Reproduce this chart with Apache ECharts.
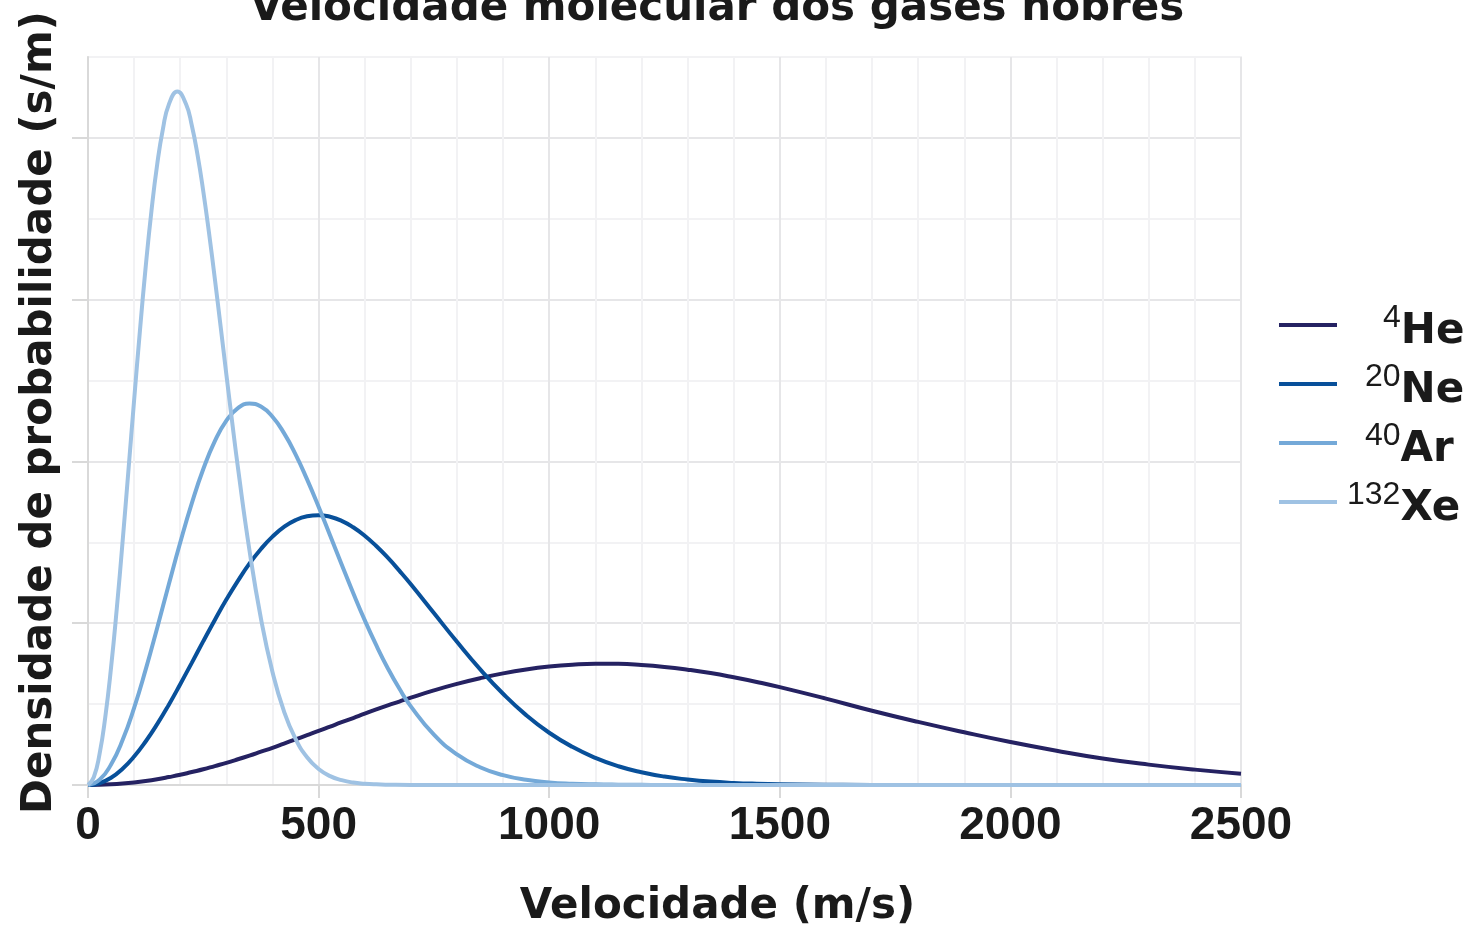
<!DOCTYPE html>
<html>
<head>
<meta charset="utf-8">
<script src="https://cdn.jsdelivr.net/npm/echarts@6/dist/echarts.min.js"></script>
<style>
html, body { margin: 0; padding: 0; background: #ffffff; }
#chart { width: 1472px; height: 929px; }
</style>
</head>
<body>
<div id="chart"></div>
<script>
// Velocity sample points (m/s) for He, Ne, Ar
const velocity = [0, 25, 50, 75, 100, 125, 150, 175, 200, 225, 250, 275, 300, 325, 350, 375, 400,
  425, 450, 475, 500, 525, 550, 575, 600, 625, 650, 675, 700,
  750, 800, 850, 900, 950, 1000, 1050, 1100, 1150, 1200, 1250, 1300, 1350, 1400, 1450, 1500,
  1600, 1700, 1800, 1900, 2000, 2100, 2200, 2300, 2400, 2500];
// Finer velocity samples for the narrow Xe peak
const xeVelocity = [0, 12.5, 25, 37.5, 50, 62.5, 75, 87.5, 100, 112.5, 125, 137.5, 150, 162.5, 175, 193.75,
  212.5, 225, 237.5, 250, 262.5, 275, 287.5, 300, 312.5, 325, 350, 375, 400,
  425, 450, 475, 500, 525, 550, 575, 600, 625, 650, 700, 2500];

// Probability density, in units of 10^-3 s/m
const heDensity = [0, 0.001, 0.004, 0.009, 0.016, 0.025, 0.036, 0.049, 0.063, 0.080, 0.097, 0.117, 0.137, 0.159, 0.182, 0.206, 0.230,
  0.256, 0.282, 0.308, 0.334, 0.361, 0.388, 0.414, 0.441, 0.467, 0.492, 0.516, 0.540,
  0.585, 0.625, 0.660, 0.690, 0.714, 0.732, 0.744, 0.750, 0.749, 0.742, 0.730, 0.713, 0.692, 0.666, 0.637, 0.605,
  0.534, 0.459, 0.390, 0.326, 0.266, 0.212, 0.164, 0.126, 0.095, 0.070];
const neDensity = [0, 0.011, 0.045, 0.101, 0.176, 0.269, 0.376, 0.495, 0.623, 0.755, 0.889, 1.020, 1.146, 1.262, 1.368, 1.459, 1.535,
  1.595, 1.637, 1.661, 1.668, 1.658, 1.633, 1.593, 1.541, 1.477, 1.405, 1.325, 1.241,
  1.063, 0.885, 0.716, 0.564, 0.432, 0.323, 0.236, 0.168, 0.116, 0.079, 0.052, 0.034, 0.021, 0.013, 0.008, 0.005,
  0.002, 0, 0, 0, 0, 0, 0, 0, 0, 0];
const arDensity = [0, 0.032, 0.127, 0.278, 0.477, 0.713, 0.971, 1.238, 1.499, 1.741, 1.953, 2.125, 2.252, 2.330, 2.358, 2.339, 2.276,
  2.175, 2.044, 1.889, 1.720, 1.542, 1.363, 1.187, 1.019, 0.864, 0.722, 0.596, 0.486,
  0.311, 0.189, 0.110, 0.061, 0.032, 0.016, 0.008, 0.004, 0.002, 0.001, 0, 0, 0, 0, 0, 0,
  0, 0, 0, 0, 0, 0, 0, 0, 0, 0];
const xeDensity = [0, 0.048, 0.191, 0.421, 0.726, 1.093, 1.504, 1.939, 2.379, 2.805, 3.200, 3.547, 3.836, 4.056, 4.204, 4.286,
  4.209, 4.078, 3.895, 3.669, 3.410, 3.129, 2.836, 2.538, 2.246, 1.964, 1.453, 1.029, 0.699,
  0.455, 0.285, 0.171, 0.099, 0.055, 0.030, 0.015, 0.008, 0.004, 0.002, 0, 0];

const elements = ['He', 'Ne', 'Ar', 'Xe'];
const isotopes = ['4', '20', '40', '132'];
const yTickValues = [0, 1, 2, 3, 4];

const titleText = 'Velocidade molecular dos gases nobres';
const xName = 'Velocidade (m/s)';
const yName = 'Densidade de probabilidade (s/m)';

const colors = ['#252262', '#08509a', '#74a9d8', '#9fc2e3'];
const velocities = [velocity, velocity, velocity, xeVelocity];
const densities = [heDensity, neDensity, arDensity, xeDensity];

const majorGrid = '#e6e6e8';
const minorGrid = '#f2f2f4';
const axisGray = '#d9d9d9';
const textColor = '#1a1a1a';
const boldFont = 'DejaVu Sans';

const series = elements.map((el, k) => ({
  name: el,
  type: 'line',
  data: velocities[k].map((v, i) => [v, densities[k][i]]),
  showSymbol: false,
  symbol: 'none',
  smooth: 0.5,
  lineStyle: { width: 4, color: colors[k] },
  itemStyle: { color: colors[k] },
  emphasis: { disabled: true }
}));

const legendIso = {};
elements.forEach((el, k) => { legendIso[el] = isotopes[k]; });

const chart = echarts.init(document.getElementById('chart'), null, { renderer: 'canvas' });
chart.setOption({
  animation: false,
  backgroundColor: '#ffffff',
  title: {
    text: titleText,
    left: 250,
    top: -12,
    padding: 0,
    textStyle: { fontFamily: boldFont, fontWeight: 'bold', fontSize: 42, color: textColor }
  },
  grid: {
    left: 88, right: 231, top: 57, bottom: 144,
    containLabel: false,
    outerBoundsMode: 'none',
    show: true,
    borderColor: minorGrid,
    borderWidth: 2
  },
  legend: {
    orient: 'vertical',
    left: 1279,
    top: 297,
    padding: 0,
    itemGap: 3,
    itemWidth: 58,
    itemHeight: 4,
    icon: 'rect',
    data: elements,
    formatter: name => '{s' + legendIso[name].length + '|' + legendIso[name] + '}{el|' + name + '}',
    textStyle: {
      color: textColor,
      rich: {
        s1: { fontFamily: 'Liberation Sans', fontSize: 32, color: textColor, lineHeight: 45, padding: [0, 0, 13, 41] },
        s2: { fontFamily: 'Liberation Sans', fontSize: 32, color: textColor, lineHeight: 45, padding: [0, 0, 13, 23] },
        s3: { fontFamily: 'Liberation Sans', fontSize: 32, color: textColor, lineHeight: 45, padding: [0, 0, 13, 5] },
        el: { fontFamily: boldFont, fontWeight: 'bold', fontSize: 42, color: textColor, lineHeight: 44, padding: [14, 0, 0, 0] }
      }
    }
  },
  xAxis: {
    type: 'value',
    min: 0,
    max: 2500,
    interval: 500,
    name: xName,
    nameLocation: 'middle',
    nameGap: 101,
    nameTextStyle: { fontFamily: boldFont, fontWeight: 'bold', fontSize: 42, color: textColor, padding: [0, 0, 0, 106] },
    axisLine: { show: true, lineStyle: { color: axisGray, width: 2 } },
    axisTick: { show: true, length: 13, lineStyle: { color: axisGray, width: 2 } },
    axisLabel: {
      margin: 18, fontFamily: 'Liberation Sans', fontWeight: 'bold', fontSize: 46, color: textColor,
      formatter: v => String(v)
    },
    splitLine: { show: true, lineStyle: { color: majorGrid, width: 2 } },
    minorTick: { show: false, splitNumber: 5 },
    minorSplitLine: { show: true, lineStyle: { color: minorGrid, width: 2 } }
  },
  yAxis: {
    type: 'value',
    min: 0,
    max: 4.5,
    interval: 1,
    name: yName,
    nameLocation: 'middle',
    nameRotate: 90,
    nameGap: 27,
    nameTextStyle: { fontFamily: boldFont, fontWeight: 'bold', fontSize: 42, color: textColor, padding: [0, 0, 0, 17] },
    axisLine: { show: true, lineStyle: { color: axisGray, width: 2 } },
    axisTick: { show: true, length: 16, customValues: yTickValues, lineStyle: { color: axisGray, width: 2 } },
    axisLabel: { show: false },
    splitLine: { show: true, lineStyle: { color: majorGrid, width: 2 } },
    minorTick: { show: false, splitNumber: 2 },
    minorSplitLine: { show: true, lineStyle: { color: minorGrid, width: 2 } }
  },
  series: series
});
</script>
</body>
</html>
